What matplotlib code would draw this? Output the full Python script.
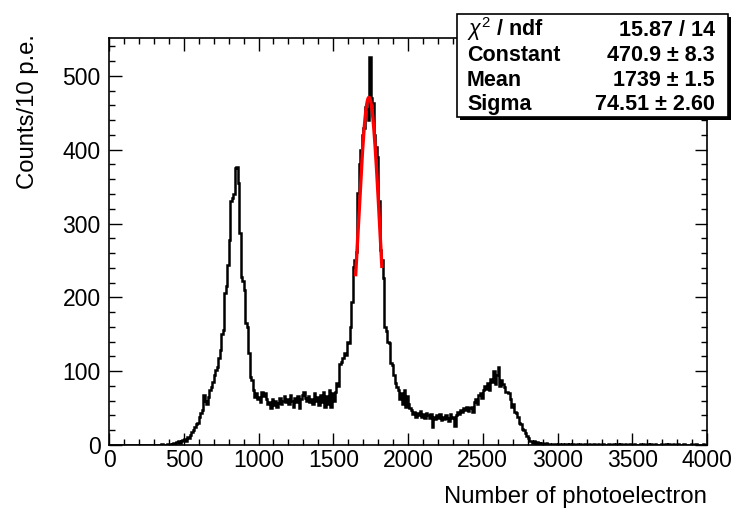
import numpy as np
import matplotlib
matplotlib.use("Agg")
import matplotlib.pyplot as plt
from matplotlib.ticker import MultipleLocator
from matplotlib.patches import Rectangle

# ============================
# DATA (counts per 10 p.e. bin, 0..4000)
# ============================
bin_width = 10
x_min, x_max = 0, 4000

counts_0000_0999 = [
    0, 0, 0, 0, 0, 0, 0, 0, 0, 0,            # 0
    0, 0, 0, 0, 0, 0, 0, 0, 0, 0,            # 100
    0, 0, 0, 0, 0, 0, 0, 0, 0, 0,            # 200
    0, 0, 0, 0, 0, 1, 0, 0, 0, 1,            # 300
    1, 0, 2, 3, 2, 4, 5, 3, 6, 7,            # 400
    8, 6, 11, 9, 14, 17, 20, 25, 28, 30,     # 500
    38, 43, 48, 68, 60, 55, 65, 75, 78, 86,  # 600
    95, 102, 106, 118, 129, 150, 156, 206, 215, 244,  # 700
    278, 330, 335, 340, 375, 377, 355, 287, 228, 222,  # 800
    210, 165, 160, 125, 92, 88, 75, 65, 70, 62,        # 900
]
counts_1000_1999 = [
    65, 58, 72, 66, 70, 62, 55, 58, 50, 62,
    54, 60, 52, 57, 63, 55, 60, 66, 58, 62,
    55, 68, 60, 52, 64, 58, 66, 50, 62, 68,
    72, 64, 60, 66, 58, 62, 55, 70, 60, 65,
    54, 68, 58, 72, 52, 66, 56, 74, 52, 70,
    60, 72, 84, 80, 110, 112, 118, 124, 122, 140,
    138, 160, 194, 241, 250, 262, 341, 380, 400, 420,
    430, 458, 455, 440, 525, 470, 463, 420, 404, 390,
    330, 264, 250, 226, 160, 155, 140, 138, 111, 108,
    95, 84, 78, 75, 62, 70, 55, 74, 52, 66,
]
counts_2000_2999 = [
    55, 50, 47, 42, 45, 38, 44, 40, 46, 38,
    42, 37, 44, 40, 36, 42, 24, 38, 35, 40,
    36, 42, 34, 38, 35, 40, 37, 33, 42, 36,
    38, 26, 40, 45, 42, 48, 45, 50, 47, 52,
    46, 50, 52, 45, 58, 62, 56, 68, 70, 64,
    75, 80, 76, 84, 75, 90, 85, 100, 82, 95,
    105, 80, 88, 82, 79, 72, 72, 70, 62, 52,
    55, 45, 43, 38, 30, 28, 22, 20, 16, 12,
    9, 6, 5, 3, 5, 2, 4, 3, 2, 3,
    2, 1, 3, 1, 2, 0, 1, 2, 1, 0,
]
counts_3000_3999 = [
    1, 2, 0, 1, 0, 2, 1, 0, 1, 0,
    1, 0, 0, 1, 0, 1, 0, 0, 1, 0,
    0, 1, 0, 0, 1, 0, 0, 1, 0, 0,
    1, 0, 0, 0, 1, 0, 0, 1, 0, 1,
    2, 0, 1, 0, 0, 1, 0, 0, 1, 0,
    0, 1, 0, 0, 0, 2, 0, 1, 0, 0,
    1, 0, 2, 0, 0, 1, 0, 0, 0, 1,
    0, 0, 1, 0, 2, 0, 0, 1, 0, 0,
    1, 0, 0, 0, 1, 0, 0, 0, 0, 1,
    0, 0, 1, 0, 0, 0, 0, 1, 0, 0,
]

# gaussian fit result (stat box)
fit_const = 470.9
fit_mean = 1739
fit_sigma = 74.51
fit_range = (1650, 1825)

stat_names = ["$\\chi^{2}$ / ndf", "Constant", "Mean", "Sigma"]
stat_values = ["15.87 / 14", "470.9 \u00b1 8.3", "1739 \u00b1 1.5", "74.51 \u00b1 2.60"]

x_title = "Number of photoelectron"
y_title = "Counts/10 p.e."

# ============================
# PLOT
# ============================
plt.rcParams["font.family"] = ["Liberation Sans", "DejaVu Sans"]
plt.rcParams["mathtext.fontset"] = "custom"
plt.rcParams["mathtext.rm"] = "Liberation Sans"
plt.rcParams["mathtext.it"] = "Liberation Sans:italic"
plt.rcParams["mathtext.bf"] = "Liberation Sans:bold"

W, H = 734, 512
fig = plt.figure(figsize=(W / 100, H / 100), dpi=100)
ax = fig.add_axes([109 / W, 1 - 445 / H, (707 - 109) / W, (445 - 38) / H])

counts = np.array(counts_0000_0999 + counts_1000_1999 + counts_2000_2999 + counts_3000_3999)
edges = np.arange(x_min, x_max + bin_width, bin_width)

ax.stairs(counts, edges, color="black", lw=1.8)

xf = np.linspace(fit_range[0], fit_range[1], 200)
yf = fit_const * np.exp(-0.5 * ((xf - fit_mean) / fit_sigma) ** 2)
ax.plot(xf, yf, color="red", lw=2.4)

ax.set_xlim(x_min, x_max)
ax.set_ylim(0, counts.max() * 1.05)

ax.xaxis.set_major_locator(MultipleLocator(500))
ax.xaxis.set_minor_locator(MultipleLocator(100))
ax.yaxis.set_major_locator(MultipleLocator(100))
ax.yaxis.set_minor_locator(MultipleLocator(20))
ax.tick_params(which="both", direction="in", top=True, right=True, width=1, labelsize=16.5)
ax.tick_params(which="major", length=9)
ax.tick_params(which="minor", length=4.5)
ax.tick_params(axis="x", pad=3)
ax.tick_params(axis="y", pad=6)
for s in ax.spines.values():
    s.set_linewidth(1.2)

fig.text(707 / W, 1 - 503 / H, x_title, ha="right", va="baseline", fontsize=17.2)
fig.text(17 / W, 1 - 34 / H, y_title, ha="left", va="top", rotation=90, fontsize=17.2)

# stat box with shadow
bx0, by0, bx1, by1 = 457, 14, 728, 117
fig.patches.append(Rectangle(((bx0 + 3) / W, 1 - (by1 + 3) / H), (bx1 - bx0) / W, (by1 - by0) / H,
                             transform=fig.transFigure, facecolor="black", edgecolor="none", zorder=5))
fig.patches.append(Rectangle((bx0 / W, 1 - by1 / H), (bx1 - bx0) / W, (by1 - by0) / H,
                             transform=fig.transFigure, facecolor="white", edgecolor="black", lw=1.2, zorder=6))
baselines = [36, 61, 86, 110]
for name, val, yb in zip(stat_names, stat_values, baselines):
    fig.text(467 / W, 1 - yb / H, name, ha="left", va="baseline", fontsize=15.5, fontweight="bold", zorder=7)
    fig.text(715 / W, 1 - yb / H, val, ha="right", va="baseline", fontsize=15.5, fontweight="bold", zorder=7)

fig.savefig("out.png", dpi=100)
